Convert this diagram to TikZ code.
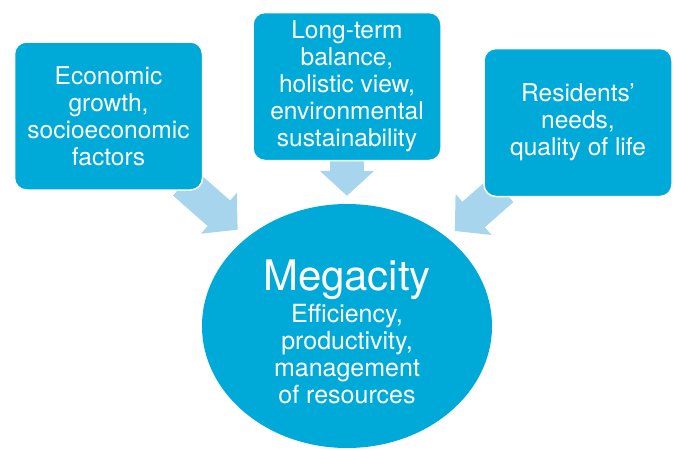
\documentclass[tikz,border=0pt]{standalone}
\usepackage{fontspec}
\setmainfont{TeX Gyre Heros}
\usepackage{tikz}
\usetikzlibrary{shapes.geometric}
\usetikzlibrary{arrows.meta}
\usetikzlibrary{backgrounds}
\definecolor{cityblue}{RGB}{0,170,216}
\definecolor{flowblue}{RGB}{167,213,238}
\tikzset{
b/.style={
  rectangle,
  rounded corners=12pt,
  inner sep=0pt,
  minimum width=188pt,
  minimum height=148pt,
  align=center,
  draw=white,
  line width=1.5pt,
  fill=cityblue,
  text=white,
  font=\fontsize{24.5}{27}\selectfont
  }
}
\tikzset{
flow/.style={
  draw=flowblue,
  line width=34pt,
  shorten <=-12pt,
  -{Triangle[length=25pt,width=53pt]}
  }
}

\begin{document}
\begin{tikzpicture}[x=1pt,y=-1pt]
            \useasboundingbox (0,0) rectangle (678,450);
            \node[b] (eco) at (108.5,116) {Economic\\growth,\\socioeconomic\\factors};
            \node[b] (bal) at (347,86.5) {Long-term\\balance,\\holistic view,\\environmental\\sustainability};
            \node[b] (res) at (578,122.5) {Residents’\\needs,\\quality of life};
            \node[ellipse,fill=cityblue,text=white,inner sep=0pt,
                  minimum width=290pt,minimum height=244pt,align=center,
                  font=\fontsize{25}{26.7}\selectfont] (mega) at (347,326)
                 {\rule{0pt}{42pt}{\fontsize{42}{44}\selectfont Megacity}\\[4pt]Efficiency,\\productivity,\\management\\of resources};
            \begin{scope}[on background layer]
            \path
            (eco) edge [flow,shorten >=12pt] (mega)
            (bal) edge [flow,shorten >=8pt] (mega)
            (res) edge [flow,shorten >=10pt] (mega)
            ;
            \end{scope}
        \end{tikzpicture}
\end{document}
